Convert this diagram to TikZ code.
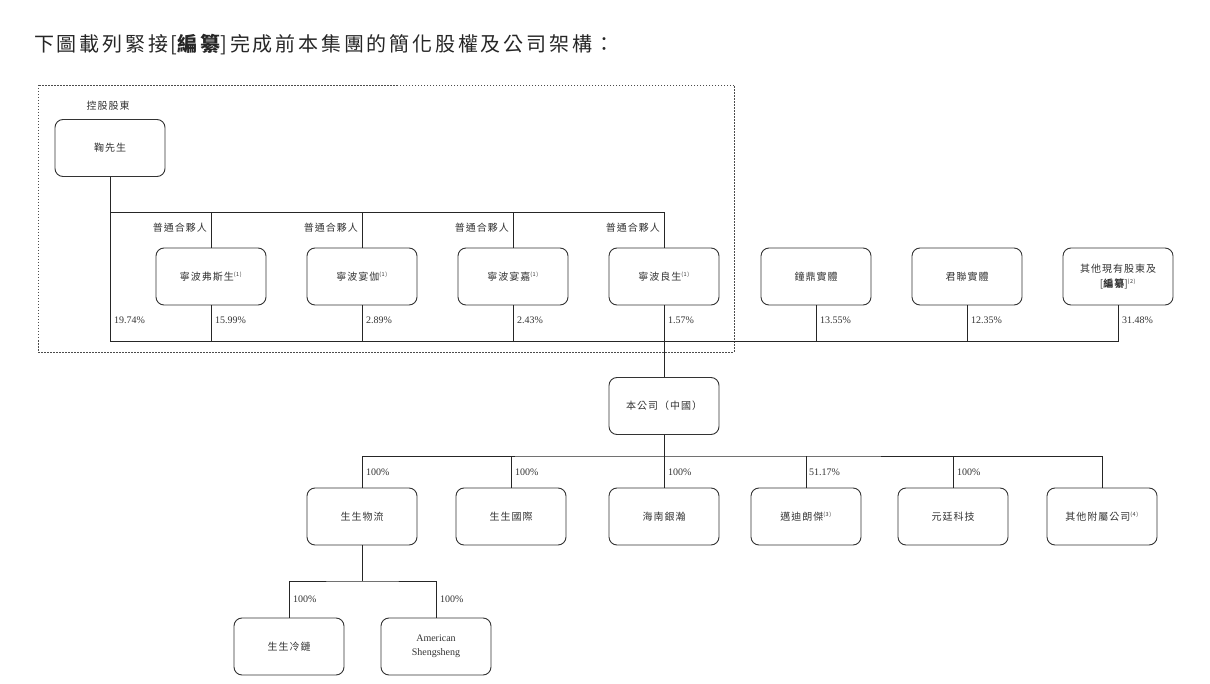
\documentclass[tikz,border=0pt]{standalone}
\usepackage{fontspec}
\setmainfont{Liberation Serif}
\newfontfamily\cjk[LetterSpace=10]{Noto Sans CJK TC}
\newfontfamily\cjktitle[LetterSpace=14]{Noto Sans CJK TC}
\newcommand\fnref[1]{\textsuperscript{\fontsize{5.5}{5.5}\selectfont(#1)}}
\begin{document}
\begin{tikzpicture}[x=1pt,y=-1pt,
  box/.style={draw=black!80, line width=0.9pt, rounded corners=8pt, minimum width=110pt, minimum height=57pt, inner sep=2pt, align=center, font=\cjk\fontsize{10}{15}\selectfont, text=black!80},
  ln/.style={draw=black!85, line width=0.9pt},
  pct/.style={anchor=west, font=\fontsize{10}{12}\selectfont, text=black!80, inner sep=0pt},
  gp/.style={anchor=east, font=\cjk\fontsize{10}{12}\selectfont, text=black!80, inner sep=0pt}]
\useasboundingbox (0,0) rectangle (1210,684);
% title
\node[anchor=west, inner sep=0pt, font=\cjktitle\fontsize{20}{22}\selectfont, text=black!85] (title) at (34,45) {下圖載列緊接{[}{\bfseries 編纂}{]}完成前本集團的簡化股權及公司架構：};
% dashed frame
\draw[black!70, line width=0.7pt, dash pattern=on 1.5pt off 1.5pt] (38,85) rectangle (734,352);
% nodes
\node[gp, anchor=center] (kg) at (108,106) {控股股東};
\node[box] (ju) at (110,148) {鞠先生};
\node[box] (nbfs) at (211,276.5) {寧波弗斯生\fnref{1}};
\node[box] (nbyj) at (362,276.5) {寧波宴伽\fnref{1}};
\node[box] (nbyjia) at (513,276.5) {寧波宴嘉\fnref{1}};
\node[box] (nbls) at (664,276.5) {寧波良生\fnref{1}};
\node[box] (zd) at (816,276.5) {鐘鼎實體};
\node[box] (jl) at (967,276.5) {君聯實體};
\node[box] (qt) at (1118,276.5) {其他現有股東及\\\relax{[}{\bfseries 編纂}{]}\fnref{2}};
\node[box] (co) at (664,406) {本公司（中國）};
\node[box] (wl) at (362,516.5) {生生物流};
\node[box] (gj) at (511,516.5) {生生國際};
\node[box] (hn) at (664,516.5) {海南銀瀚};
\node[box] (md) at (806,516.5) {邁迪朗傑\fnref{3}};
\node[box] (yt) at (953,516.5) {元廷科技};
\node[box] (fs) at (1102,516.5) {其他附屬公司\fnref{4}};
\node[box] (ll) at (289,646.5) {生生冷鏈};
\node[box, font=\fontsize{10}{14}\selectfont] (as) at (436,646.5) {American\\Shengsheng};
% bus coordinates
\coordinate (top) at (0,212);
\coordinate (bus) at (0,341);
\coordinate (bus2) at (0,456);
\coordinate (bus3) at (0,581);
% connectors
\draw[ln] (ju.south) -- (ju.south |- bus) -| (qt.south);
\draw[ln] (ju.south |- top) -| (nbls.north);
\foreach \n in {nbfs,nbyj,nbyjia} \draw[ln] (\n.north) -- (\n.north |- top);
\foreach \n in {nbfs,nbyj,nbyjia,zd,jl} \draw[ln] (\n.south) -- (\n.south |- bus);
\draw[ln] (nbls.south) -- (co.north);
\draw[ln] (co.south) -- (co.south |- bus2);
\draw[ln] (wl.north) |- (co.south |- bus2) -| (fs.north);
\foreach \n in {gj,hn,md,yt} \draw[ln] (\n.north) -- (\n.north |- bus2);
\draw[ln] (wl.south) -- (wl.south |- bus3);
\draw[ln] (ll.north) |- (wl.south |- bus3) -| (as.north);
% GP labels
\foreach \n/\m in {nbfs/a,nbyj/b,nbyjia/c,nbls/d} \node[gp] (gp\m) at ([xshift=-4pt]\n.north |- 0,228) {普通合夥人};
% percentages row 1
\node[pct] (p1) at (114,320) {19.74\%};
\node[pct] (p2) at (215,320) {15.99\%};
\node[pct] (p3) at (366,320) {2.89\%};
\node[pct] (p4) at (517,320) {2.43\%};
\node[pct] (p5) at (668,320) {1.57\%};
\node[pct] (p6) at (820,320) {13.55\%};
\node[pct] (p7) at (971,320) {12.35\%};
\node[pct] (p8) at (1122,320) {31.48\%};
% percentages row 2
\node[pct] (q1) at (366,472) {100\%};
\node[pct] (q2) at (515,472) {100\%};
\node[pct] (q3) at (668,472) {100\%};
\node[pct] (q4) at (809,472) {51.17\%};
\node[pct] (q5) at (957,472) {100\%};
% percentages row 3
\node[pct] (r1) at (293,599) {100\%};
\node[pct] (r2) at (440,599) {100\%};
\end{tikzpicture}
\end{document}
